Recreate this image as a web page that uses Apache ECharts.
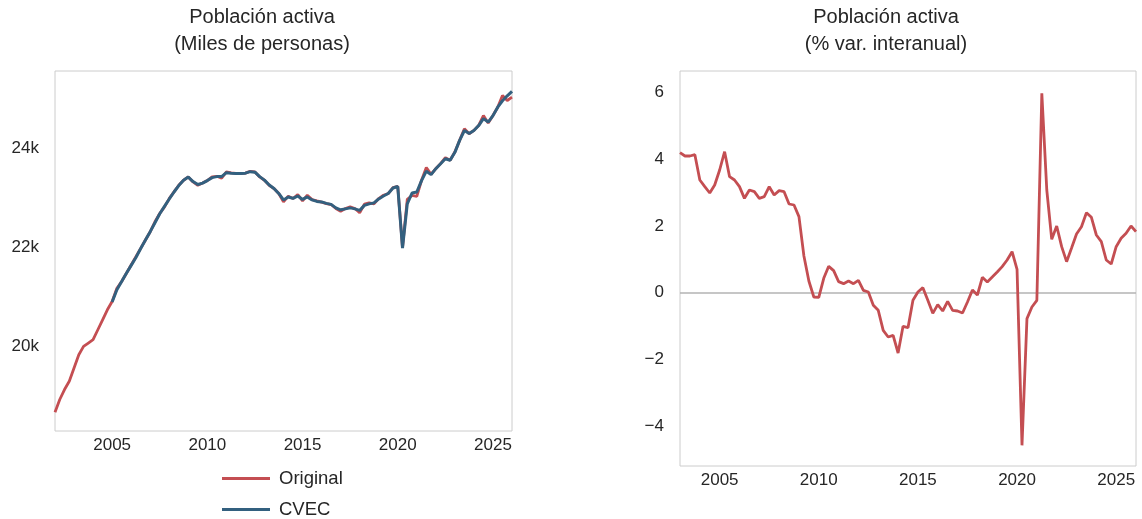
<!DOCTYPE html>
<html>
<head>
<meta charset="utf-8">
<script src="https://cdn.jsdelivr.net/npm/echarts@6/dist/echarts.min.js"></script>
<style>
html,body{margin:0;padding:0;background:#fff;}
#chart{width:1142px;height:519px;}
</style>
</head>
<body>
<div id="chart"></div>
<script>
// Quarterly data. Left panel: 2001T4 .. 2025T4 ; right panel: 2002T4 .. 2025T4
var leftStartYear = 2002;   // first quarter-end plotted (2001-12-31)
var rightStartYear = 2003;  // first quarter-end plotted (2002-12-31)
var xTickLabels = [2005, 2010, 2015, 2020, 2025];
var leftYTicks = [20000, 22000, 24000];
var rightYTicks = [-4, -2, 0, 2, 4, 6];

// Población activa, original (miles de personas)
var original = [
  18680, 18935, 19136, 19303, 19571, 19839, 20006, 20074, 20141, 20342,
  20543, 20744, 20911, 21180, 21315, 21481, 21649, 21816, 21983, 22151,
  22318, 22519, 22686, 22820, 22987, 23122, 23256, 23357, 23424, 23323,
  23256, 23300, 23350, 23424, 23437, 23400, 23524, 23504, 23495, 23491,
  23500, 23538, 23524, 23424, 23357, 23256, 23189, 23089, 22921, 23035,
  22988, 23069, 22940, 23055, 22968, 22941, 22915, 22887, 22867, 22787,
  22730, 22787, 22820, 22787, 22700, 22874, 22900, 22880, 22988, 23055,
  23089, 23210, 23236, 22000, 22970, 23050, 23030, 23357, 23612, 23478,
  23592, 23692, 23813, 23759, 23926, 24161, 24396, 24295, 24362, 24462,
  24663, 24509, 24663, 24830, 25065, 24965, 25032
];
// CVEC (corregida de efectos estacionales y de calendario), starts 2004T4
var cvecOffset = 12;
var cvec = [
  20900, 21150, 21315, 21481, 21640, 21800, 21980, 22150, 22320, 22500,
  22680, 22830, 22980, 23120, 23250, 23357, 23420, 23330, 23270, 23300,
  23350, 23410, 23430, 23430, 23510, 23500, 23495, 23495, 23500, 23530,
  23520, 23430, 23360, 23260, 23190, 23090, 22960, 23020, 22990, 23040,
  22970, 23020, 22960, 22930, 22920, 22890, 22870, 22800, 22760, 22780,
  22800, 22780, 22750, 22850, 22880, 22900, 22980, 23040, 23090, 23200,
  23230, 21990, 22880, 23100, 23120, 23350, 23540, 23470, 23590, 23690,
  23790, 23760, 23920, 24160, 24360, 24300, 24360, 24460, 24600, 24530,
  24660, 24830, 24960, 25060, 25150
];
// % var. interanual
var yoy = [
  4.20, 4.10, 4.10, 4.14, 3.38, 3.18, 2.99, 3.23, 3.68, 4.23,
  3.48, 3.38, 3.18, 2.83, 3.08, 3.03, 2.83, 2.88, 3.18, 2.93,
  3.06, 3.03, 2.66, 2.63, 2.28, 1.10, 0.35, -0.13, -0.14, 0.43,
  0.79, 0.66, 0.33, 0.27, 0.35, 0.27, 0.37, 0.07, 0.02, -0.38,
  -0.53, -1.13, -1.33, -1.28, -1.81, -1.01, -1.05, -0.23, 0.02, 0.15,
  -0.23, -0.62, -0.36, -0.55, -0.26, -0.53, -0.55, -0.61, -0.28, 0.08,
  -0.07, 0.46, 0.32, 0.47, 0.62, 0.78, 0.98, 1.23, 0.70, -4.58,
  -0.78, -0.43, -0.23, 5.98, 3.08, 1.60, 2.00, 1.38, 0.93, 1.34,
  1.76, 1.98, 2.40, 2.26, 1.73, 1.53, 0.98, 0.86, 1.38, 1.63,
  1.78, 2.00, 1.83
];

var RED = '#c44e52';
var BLUE = '#33607f';
var TXT = '#262626';
var FONT = '"Liberation Sans", Arial, sans-serif';

function toPairs(arr, start, offset) {
  return arr.map(function (v, i) { return [start + (i + (offset || 0)) * 0.25, v]; });
}
function fmtMinus(v) { return v < 0 ? '\u2212' + Math.abs(v) : String(v); }

var chart = echarts.init(document.getElementById('chart'), null, {renderer: 'canvas'});
var xLabelStyle = {color: TXT, fontSize: 17, fontFamily: FONT, margin: 6, customValues: xTickLabels, formatter: function (v) { return String(v); }};
var legendText = {color: TXT, fontSize: 18.5, fontFamily: FONT, padding: [0, 0, 0, 4]};

chart.setOption({
  animation: false,
  backgroundColor: '#ffffff',
  textStyle: {fontFamily: FONT},
  grid: [
    {left: 55, right: 630, top: 71, bottom: 88, show: true, borderColor: '#cccccc', borderWidth: 1, backgroundColor: 'transparent'},
    {left: 680, right: 6, top: 71, bottom: 53, show: true, borderColor: '#cccccc', borderWidth: 1, backgroundColor: 'transparent'}
  ],
  graphic: [
    {type: 'text', x: 262, y: 4, style: {text: 'Población activa\n(Miles de personas)', textAlign: 'center', fill: TXT, fontSize: 20, lineHeight: 27, fontFamily: FONT}},
    {type: 'text', x: 886, y: 4, style: {text: 'Población activa\n(% var. interanual)', textAlign: 'center', fill: TXT, fontSize: 20, lineHeight: 27, fontFamily: FONT}}
  ],
  legend: [
    {left: 222, top: 469, itemWidth: 48, itemHeight: 3, icon: 'rect', data: ['Original'], textStyle: legendText, padding: 0},
    {left: 222, top: 500, itemWidth: 48, itemHeight: 3, icon: 'rect', data: ['CVEC'], textStyle: legendText, padding: 0}
  ],
  xAxis: [
    {type: 'value', gridIndex: 0, min: leftStartYear, max: 2026, splitLine: {show: false}, axisLine: {show: false}, axisTick: {show: false}, axisLabel: xLabelStyle},
    {type: 'value', gridIndex: 1, min: rightStartYear, max: 2026, splitLine: {show: false}, axisLine: {show: false}, axisTick: {show: false}, axisLabel: xLabelStyle}
  ],
  yAxis: [
    {type: 'value', gridIndex: 0, min: 18300, max: 25560, splitLine: {show: false}, axisLine: {show: false}, axisTick: {show: false},
      axisLabel: {color: TXT, fontSize: 17, fontFamily: FONT, margin: 16, customValues: leftYTicks, formatter: function (v) { return (v / 1000) + 'k'; }}},
    {type: 'value', gridIndex: 1, min: -5.2, max: 6.65, splitLine: {show: false}, axisLine: {show: false}, axisTick: {show: false},
      axisLabel: {color: TXT, fontSize: 17, fontFamily: FONT, margin: 16, customValues: rightYTicks, formatter: fmtMinus}}
  ],
  series: [
    {name: 'Original', type: 'line', xAxisIndex: 0, yAxisIndex: 0, data: toPairs(original, leftStartYear, 0), showSymbol: false, symbol: 'none',
      lineStyle: {color: RED, width: 2.8}, itemStyle: {color: RED}, z: 2},
    {name: 'CVEC', type: 'line', xAxisIndex: 0, yAxisIndex: 0, data: toPairs(cvec, leftStartYear, cvecOffset), showSymbol: false, symbol: 'none',
      lineStyle: {color: BLUE, width: 3}, itemStyle: {color: BLUE}, z: 3},
    {name: 'yoy', type: 'line', xAxisIndex: 1, yAxisIndex: 1, data: toPairs(yoy, rightStartYear, 0), showSymbol: false, symbol: 'none',
      lineStyle: {color: RED, width: 2.8}, itemStyle: {color: RED}, z: 3,
      markLine: {silent: true, symbol: 'none', label: {show: false}, lineStyle: {color: '#b3b3b3', width: 1.6, type: 'solid'}, data: [{yAxis: 0}], z: 1}}
  ]
});
</script>
</body>
</html>
